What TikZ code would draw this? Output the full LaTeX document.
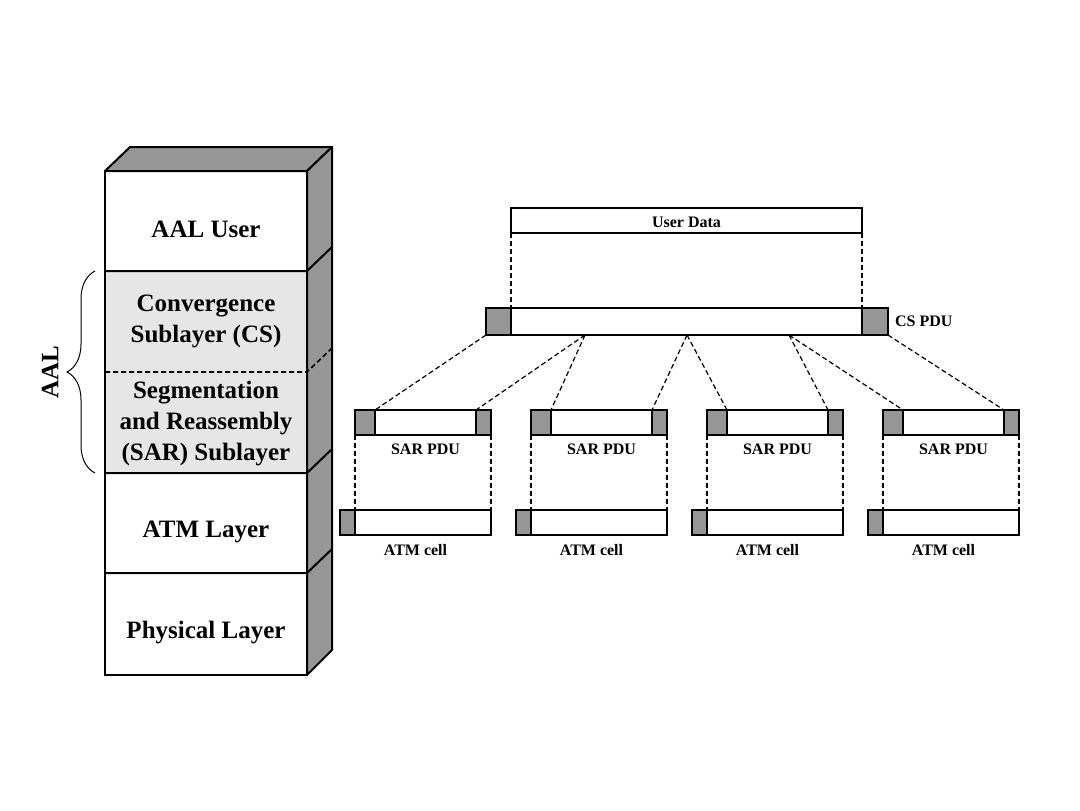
\documentclass[tikz,border=0pt]{standalone}
\usepackage{fontspec}
\setmainfont{Liberation Serif}
\usetikzlibrary{positioning,decorations.pathreplacing}
\definecolor{FaceGray}{RGB}{150,150,150}
\definecolor{SubGray}{RGB}{230,230,230}
\tikzset{
  face/.style={draw=black,fill=FaceGray,line width=1pt,line join=round},
  frame/.style={draw=black,line width=1pt},
  layertxt/.style={font=\bfseries\fontsize{12.5}{15.5}\selectfont,align=center},
  fld/.style={draw=black,fill=white,line width=0.7pt,inner sep=0pt,outer sep=0pt,
    minimum height=12.5pt,anchor=north west},
}
\tikzset{hdr/.style={fld,fill=FaceGray}, lbl/.style={font=\bfseries\fontsize{8}{9.5}\selectfont},link/.style={draw=black,line width=0.6pt,dash pattern=on 2.5pt off 1.5pt}}

\begin{document}
\begin{tikzpicture}[x=0.5pt,y=-0.5pt]
\fill[white] (0,0) rectangle (1080,810);
\useasboundingbox (0,0) rectangle (1080,810);
% protocol stack
\draw[face] (105,171) -- (130,147) -- (332,147) -- (307,171) -- cycle;
\draw[face] (307,171) -- (332,147) -- (332,650) -- (307,675) -- cycle;
\fill[SubGray] (105,271) rectangle (307,473);
\draw[frame] (105,171) rectangle (307,675);
\draw[frame] (105,271) -- (307,271) -- (332,247);
\draw[frame] (105,473) -- (307,473) -- (332,449);
\draw[frame] (105,573) -- (307,573) -- (332,549);
\draw[frame,line width=0.8pt,dash pattern=on 2.5pt off 1.5pt] (105,372) -- (307,372) -- (332,348);
\node[layertxt] (aaluser) at (206,229) {AAL User};
\node[layertxt] (cs) at (206,321) {Convergence\\Sublayer (CS)};
\node[layertxt] (sar) at (206,424) {Segmentation\\and Reassembly\\(SAR) Sublayer};
\node[layertxt] (atm) at (206,532) {ATM Layer};
\node[layertxt] (phy) at (206,633) {Physical Layer};
\draw[decorate,decoration={brace,amplitude=14pt},line width=0.5pt] (95,473) -- (95,271);
\node[font=\bfseries\fontsize{12.5}{15}\selectfont,rotate=90] (aal) at (50,372) {AAL};

% user data and CS PDU
\node[fld,lbl,minimum width=175.5pt,text depth=0pt,text height=7pt] (udata) at (511,208) {User Data};
\node[hdr,minimum width=12.5pt,minimum height=13.5pt] (cs-h) at (486,308) {};
\node[fld,minimum width=175.5pt,minimum height=13.5pt,right=0pt of cs-h] (cs-b) {};
\node[hdr,minimum width=13pt,minimum height=13.5pt,right=0pt of cs-b] (cs-t) {};
\node[lbl,right=0pt of cs-t] (cs-lab) {CS PDU};
\coordinate (cs-s1) at (585,335);
\coordinate (cs-s2) at (687,335);
\coordinate (cs-s3) at (789,335);

% SAR PDUs and ATM cells
\node[hdr,minimum width=10pt] (sar1-h) at (355,410) {};
\node[fld,minimum width=50.5pt,right=0pt of sar1-h] (sar1-b) {};
\node[hdr,minimum width=7.5pt,right=0pt of sar1-b] (sar1-t) {};
\node[lbl,below=1pt of sar1-b] (sar1-lab) {SAR PDU};
\node[hdr,minimum width=7.5pt] (atm1-h) at (340,510) {};
\node[fld,minimum width=68pt,right=0pt of atm1-h] (atm1-b) {};
\node[lbl,below=1pt of atm1-b,xshift=-3.75pt] (atm1-lab) {ATM cell};

\node[hdr,minimum width=10pt] (sar2-h) at (531,410) {};
\node[fld,minimum width=50.5pt,right=0pt of sar2-h] (sar2-b) {};
\node[hdr,minimum width=7.5pt,right=0pt of sar2-b] (sar2-t) {};
\node[lbl,below=1pt of sar2-b] (sar2-lab) {SAR PDU};
\node[hdr,minimum width=7.5pt] (atm2-h) at (516,510) {};
\node[fld,minimum width=68pt,right=0pt of atm2-h] (atm2-b) {};
\node[lbl,below=1pt of atm2-b,xshift=-3.75pt] (atm2-lab) {ATM cell};

\node[hdr,minimum width=10pt] (sar3-h) at (707,410) {};
\node[fld,minimum width=50.5pt,right=0pt of sar3-h] (sar3-b) {};
\node[hdr,minimum width=7.5pt,right=0pt of sar3-b] (sar3-t) {};
\node[lbl,below=1pt of sar3-b] (sar3-lab) {SAR PDU};
\node[hdr,minimum width=7.5pt] (atm3-h) at (692,510) {};
\node[fld,minimum width=68pt,right=0pt of atm3-h] (atm3-b) {};
\node[lbl,below=1pt of atm3-b,xshift=-3.75pt] (atm3-lab) {ATM cell};

\node[hdr,minimum width=10pt] (sar4-h) at (883,410) {};
\node[fld,minimum width=50.5pt,right=0pt of sar4-h] (sar4-b) {};
\node[hdr,minimum width=7.5pt,right=0pt of sar4-b] (sar4-t) {};
\node[lbl,below=1pt of sar4-b] (sar4-lab) {SAR PDU};
\node[hdr,minimum width=7.5pt] (atm4-h) at (868,510) {};
\node[fld,minimum width=68pt,right=0pt of atm4-h] (atm4-b) {};
\node[lbl,below=1pt of atm4-b,xshift=-3.75pt] (atm4-lab) {ATM cell};

% dashed links
\draw[link] (udata.south west) -- (cs-b.north west);
\draw[link] (udata.south east) -- (cs-b.north east);
\draw[link] (cs-h.south west) -- (sar1-h.north east);
\draw[link] (cs-s1) -- (sar1-t.north west);
\draw[link] (cs-s1) -- (sar2-h.north east);
\draw[link] (cs-s2) -- (sar2-t.north west);
\draw[link] (cs-s2) -- (sar3-h.north east);
\draw[link] (cs-s3) -- (sar3-t.north west);
\draw[link] (cs-s3) -- (sar4-h.north east);
\draw[link] (cs-t.south east) -- (sar4-t.north west);
\draw[link] (sar1-h.south west) -- (atm1-b.north west);
\draw[link] (sar1-t.south east) -- (atm1-b.north east);
\draw[link] (sar2-h.south west) -- (atm2-b.north west);
\draw[link] (sar2-t.south east) -- (atm2-b.north east);
\draw[link] (sar3-h.south west) -- (atm3-b.north west);
\draw[link] (sar3-t.south east) -- (atm3-b.north east);
\draw[link] (sar4-h.south west) -- (atm4-b.north west);
\draw[link] (sar4-t.south east) -- (atm4-b.north east);
\end{tikzpicture}
\end{document}
